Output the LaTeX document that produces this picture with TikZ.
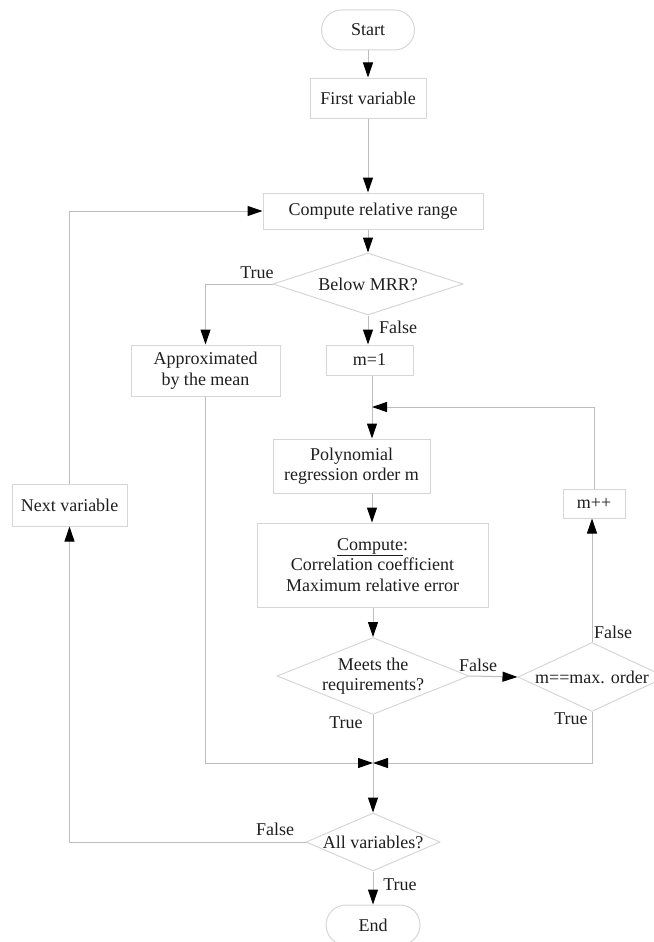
\documentclass[tikz,border=0pt]{standalone}
\usepackage{fontspec}
\setmainfont{Liberation Serif}
\usetikzlibrary{arrows.meta,shapes.geometric}
\definecolor{edge}{HTML}{BDBDBD}
\definecolor{frame}{HTML}{D6D6D6}
\definecolor{ink}{HTML}{1E1E1E}
\begin{document}
\begin{tikzpicture}[x=1pt,y=1pt,
  every node/.style={font=\fontsize{18}{20.5}\selectfont, text=ink},
  box/.style={draw=frame, line width=1pt, rectangle, inner sep=0pt, align=center},
  term/.style={box, rounded corners=20pt},
  decision/.style={draw=frame, line width=1pt, diamond, inner sep=0pt},
  flow/.style={draw=edge, line width=1pt},
  arr/.style={flow, -{Triangle[length=15pt,width=10pt,black]}},
  tag/.style={inner sep=0pt}
]
\useasboundingbox (0,0) rectangle (653,-942);

% process steps
\node[term, minimum width=93pt, minimum height=40pt] (start) at (368,-30) {Start};
\node[box, minimum width=116pt, minimum height=40pt] (first) at (368,-98) {First variable};
\node[box, minimum width=220pt, minimum height=36pt] (crr) at (373,-211) {Compute relative range};
\node[decision, minimum width=190pt, minimum height=62pt,
      label={center:Below MRR?}] (mrr) at (368,-284) {};
\node[box, minimum width=149pt, minimum height=51pt] (approx) at (205.5,-370.5) {Approximated\\by the mean};
\node[box, minimum width=87pt, minimum height=30pt] (m1) at (369.5,-360) {m=1};
\node[box, minimum width=157pt, minimum height=54pt] (poly) at (351.5,-466) {Polynomial\\regression order m};
\node[box, minimum width=231pt, minimum height=84pt] (comp) at (372.5,-565)
  {\underline{Compute}:\\Correlation coefficient\\Maximum relative error};
\node[decision, minimum width=192pt, minimum height=77pt,
      label={[align=center]center:Meets the\\requirements?}] (meets) at (373,-676) {};
\node[decision, minimum width=148pt, minimum height=69pt,
      label={center:m==max. order}] (mmax) at (592,-677) {};
\node[box, minimum width=62pt, minimum height=29pt] (mpp) at (594,-503.5) {m++};
\node[box, minimum width=115pt, minimum height=42pt] (next) at (69.5,-505) {Next variable};
\node[decision, minimum width=134pt, minimum height=58pt,
      label={center:All variables?}] (allv) at (373,-842) {};
\node[term, minimum width=94pt, minimum height=40pt] (endn) at (373,-925) {End};

% junctions
\coordinate (loopin) at (372,-407);
\coordinate (merge) at (373,-763);

% connectors
\draw[arr] (start) -- (first);
\draw[arr] (first) -- (first |- crr.north);
\draw[arr] (mrr.north |- crr.south) -- (mrr.north);
\draw[arr] (mrr.west) -| (approx.north);
\draw[arr] (mrr.south) -- (mrr.south |- m1.north);
\draw[flow] (m1.south -| loopin) -- (loopin);
\draw[arr] (loopin) -- (loopin |- poly.north);
\draw[arr] (loopin |- poly.south) -- (loopin |- comp.north);
\draw[arr] (meets.north |- comp.south) -- (meets.north);
\draw[arr] (meets.east) -- (mmax.west);
\draw[arr] (mmax.north) -- (mmax.north |- mpp.south);
\draw[arr] (mpp.north) |- (loopin);
\draw[flow] (meets.south) -- (merge);
\draw[arr] (approx.south) |- (merge);
\draw[arr] (mmax.south) |- (merge);
\draw[arr] (merge) -- (allv.north);
\draw[arr] (allv.west) -| (next.south);
\draw[arr] (next.north) |- (crr.west);
\draw[arr] (allv.south) -- (endn.north);

% branch labels
\node[tag] (tMrr) at (257,-273) {True};
\node[tag] (fMrr) at (398,-327) {False};
\node[tag] (fMeets) at (478,-665) {False};
\node[tag] (fMax) at (613,-632) {False};
\node[tag] (tMeets) at (346,-723) {True};
\node[tag] (tMax) at (571,-719) {True};
\node[tag] (fAll) at (275,-829) {False};
\node[tag] (tAll) at (400,-885) {True};
\end{tikzpicture}
\end{document}
